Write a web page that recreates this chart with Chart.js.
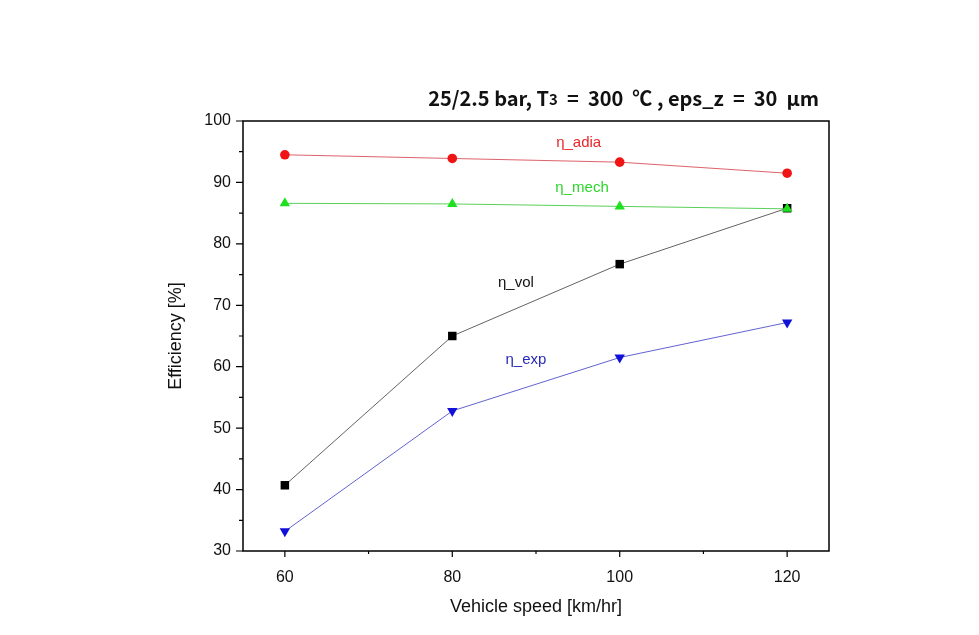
<!DOCTYPE html>
<html>
<head>
<meta charset="utf-8">
<script src="https://cdn.jsdelivr.net/npm/chart.js@4.4.1/dist/chart.umd.min.js"></script>
<style>
  html, body { margin: 0; padding: 0; background: #fff; }
  #wrap { width: 979px; height: 635px; position: relative; }
</style>
</head>
<body>
<div id="wrap"><canvas id="grafico" width="979" height="635"></canvas></div>
<script>
// ---- dados ----
const velocidades = [60, 80, 100, 120];
const etaAdia = [94.5, 93.9, 93.3, 91.5];
const etaMech = [86.6, 86.5, 86.1, 85.7];
const etaVol  = [40.7, 65.0, 76.7, 85.8];
const etaExp  = [33.2, 52.8, 61.5, 67.2];

const xTicksMaiores = [60, 80, 100, 120];
const xTicksMenores = [70, 90, 110];
const yTicksMaiores = [30, 40, 50, 60, 70, 80, 90, 100];
const yTicksMenores = [35, 45, 55, 65, 75, 85, 95];

// rótulos das curvas (posição em unidades dos dados)
const rotulos = [
  { txt: 'η_adia', x: 95.1, y: 96.4, cor: '#e8252b' },
  { txt: 'η_mech', x: 95.5, y: 89.1, cor: '#2bd52b' },
  { txt: 'η_vol',  x: 87.6, y: 73.6, cor: '#111111' },
  { txt: 'η_exp',  x: 88.8, y: 61.1, cor: '#2a2ab8' }
];

const fonteEixo = '"Liberation Sans", Arial, sans-serif';
const fonteTitulo = '"Noto Sans CJK KR", "Noto Sans", sans-serif';

function pares(ys) {
  return velocidades.map((v, i) => ({ x: v, y: ys[i] }));
}

/* ---- moldura, ticks e textos extras ---- */
const extras = {
  id: 'extras',
  afterDraw(chart) {
    const { ctx, chartArea: a, scales } = chart;
    const sx = scales.x, sy = scales.y;
    ctx.save();
    ctx.strokeStyle = '#000';
    ctx.lineWidth = 1.5;
    ctx.strokeRect(a.left, a.top, a.right - a.left, a.bottom - a.top);

    ctx.lineWidth = 1.2;
    ctx.beginPath();
    xTicksMaiores.forEach(v => { const p = sx.getPixelForValue(v); ctx.moveTo(p, a.bottom); ctx.lineTo(p, a.bottom + 6); });
    xTicksMenores.forEach(v => { const p = sx.getPixelForValue(v); ctx.moveTo(p, a.bottom); ctx.lineTo(p, a.bottom + 3); });
    yTicksMaiores.forEach(v => { const p = sy.getPixelForValue(v); ctx.moveTo(a.left, p); ctx.lineTo(a.left - 7, p); });
    yTicksMenores.forEach(v => { const p = sy.getPixelForValue(v); ctx.moveTo(a.left, p); ctx.lineTo(a.left - 4, p); });
    ctx.stroke();

    ctx.fillStyle = '#111';
    ctx.font = '16px ' + fonteEixo;
    ctx.textAlign = 'center';
    ctx.textBaseline = 'middle';
    xTicksMaiores.forEach(v => ctx.fillText(String(v), sx.getPixelForValue(v), a.bottom + 27));
    ctx.textAlign = 'right';
    yTicksMaiores.forEach(v => ctx.fillText(String(v), a.left - 12, sy.getPixelForValue(v)));

    // títulos dos eixos
    ctx.font = '18px ' + fonteEixo;
    ctx.textAlign = 'center';
    ctx.fillText('Vehicle speed [km/hr]', (a.left + a.right) / 2, a.bottom + 56);
    ctx.save();
    ctx.translate(a.left - 67, (a.top + a.bottom) / 2);
    ctx.rotate(-Math.PI / 2);
    ctx.fillText('Efficiency [%]', 0, 0);
    ctx.restore();

    // rótulos das curvas
    ctx.font = '15px ' + fonteEixo;
    rotulos.forEach(r => {
      ctx.fillStyle = r.cor;
      ctx.fillText(r.txt, sx.getPixelForValue(r.x), sy.getPixelForValue(r.y));
    });

    // título superior com subscrito
    const partes = [
      { t: '25/2.5 bar, T', f: 'bold 20px ' + fonteTitulo, dy: 0 },
      { t: '3', f: 'bold 15px ' + fonteTitulo, dy: 1 },
      { t: '  =  300  ℃ , eps_z  =  30  μm', f: 'bold 20px ' + fonteTitulo, dy: 0 }
    ];
    let total = 0;
    partes.forEach(p => { ctx.font = p.f; p.w = ctx.measureText(p.t).width; total += p.w; });
    let x = a.right - 10 - total;
    ctx.fillStyle = '#111';
    ctx.textAlign = 'left';
    partes.forEach(p => { ctx.font = p.f; ctx.fillText(p.t, x, 98 + p.dy); x += p.w; });
    ctx.restore();
  }
};

function serie(label, dados, corLinha, corPonto, estilo, raio, rot) {
  return {
    label, data: pares(dados),
    borderColor: corLinha, borderWidth: 1,
    pointStyle: estilo, pointRadius: raio, pointRotation: rot || 0,
    pointBackgroundColor: corPonto, pointBorderColor: corPonto, pointBorderWidth: 0,
    tension: 0, fill: false
  };
}

new Chart(document.getElementById('grafico'), {
  type: 'line',
  data: {
    datasets: [
      serie('η_adia', etaAdia, 'rgba(215,70,80,0.85)', '#f01414', 'circle', 4.8),
      serie('η_mech', etaMech, 'rgba(60,200,60,0.85)', '#1fe01f', 'triangle', 6),
      serie('η_vol',  etaVol,  'rgba(60,60,60,0.8)',   '#000000', 'rect', 6),
      serie('η_exp',  etaExp,  'rgba(70,70,200,0.85)', '#1010d8', 'triangle', 6, 180)
    ]
  },
  options: {
    responsive: false,
    animation: false,
    layout: { padding: { left: 0, right: 150, top: 121, bottom: 0 } },
    plugins: { legend: { display: false }, tooltip: { enabled: false } },
    scales: {
      x: {
        type: 'linear', min: 55, max: 125,
        grid: { display: false }, border: { display: false },
        ticks: { display: false },
        afterFit(s) { s.height = 84; }
      },
      y: {
        min: 30, max: 100,
        grid: { display: false }, border: { display: false },
        ticks: { display: false },
        afterFit(s) { s.width = 243; }
      }
    }
  },
  plugins: [extras]
});
</script>
</body>
</html>
